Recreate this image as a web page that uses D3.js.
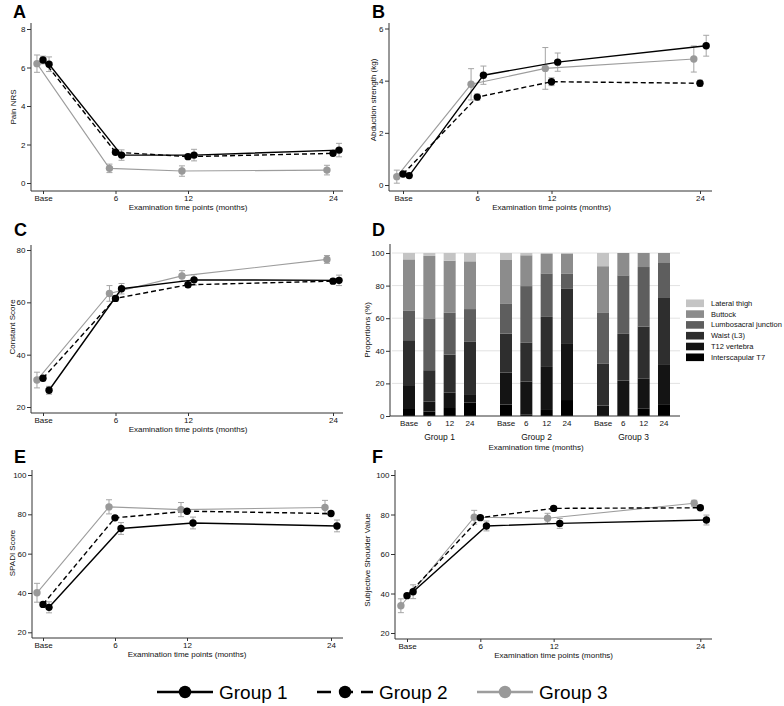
<!DOCTYPE html>
<html><head><meta charset="utf-8">
<script src="https://cdn.jsdelivr.net/npm/d3@7"></script>
<style>body{margin:0;background:#fff} text{font-family:"Liberation Sans",Arial,sans-serif;fill:#111}</style>
</head><body><svg id="c" width="784" height="706"></svg>
<script>
// ---------- data ----------
const months = [0, 6, 12, 24];
const timeLabels = ["Base", "6", "12", "24"];
const groupNames = ["Group 1", "Group 2", "Group 3"];
const dodgeMonths = [0.5, 0, -0.5];

// rows: Group 1, Group 2, Group 3 ; columns: Base, 6, 12, 24
const painMean = [[6.17, 1.45, 1.45, 1.71], [6.39, 1.60, 1.37, 1.54], [6.20, 0.76, 0.62, 0.67]];
const painErr  = [[0.38, 0.27, 0.30, 0.35], [0.20, 0.12, 0.12, 0.12], [0.45, 0.22, 0.27, 0.25]];
const abdMean  = [[0.36, 4.21, 4.71, 5.34], [0.42, 3.37, 3.96, 3.90], [0.32, 3.86, 4.47, 4.83]];
const abdErr   = [[0.08, 0.35, 0.35, 0.40], [0.06, 0.12, 0.15, 0.12], [0.25, 0.60, 0.80, 0.50]];
const constMean = [[26.4, 65.2, 68.6, 68.4], [31.0, 61.5, 66.7, 68.1], [30.3, 63.4, 70.1, 76.4]];
const constErr  = [[1.5, 2.0, 2.0, 2.0], [1.0, 1.0, 1.0, 1.0], [3.0, 3.0, 2.0, 1.5]];
const spadiMean = [[32.7, 72.8, 75.6, 74.1], [34.2, 78.2, 81.6, 80.4], [40.1, 83.8, 82.4, 83.5]];
const spadiErr  = [[2.8, 3.0, 3.0, 3.0], [1.0, 1.0, 1.0, 1.0], [4.8, 3.6, 3.6, 3.6]];
const ssvMean = [[40.9, 74.2, 75.5, 77.2], [38.9, 78.4, 83.1, 83.4], [33.8, 78.6, 78.1, 85.7]];
const ssvErr  = [[3.5, 2.5, 2.5, 2.5], [1.0, 1.0, 1.0, 1.0], [3.5, 3.5, 2.5, 1.5]];

// panel D: 12 bars (Group 1 Base..24, Group 2 Base..24, Group 3 Base..24), percent
const siteNames = ["Interscapular T7", "T12 vertebra", "Waist (L3)", "Lumbosacral junction", "Buttock", "Lateral thigh"];
const pctT7      = [4.3, 2.7, 4.9, 8.2,   7.0, 1.0, 3.7, 9.8,    0.0, 0.0, 4.7, 6.8];
const pctT12     = [14.1, 6.1, 9.4, 4.7,  19.7, 20.1, 26.4, 34.4, 6.4, 21.7, 18.4, 25.0];
const pctWaist   = [28.1, 19.3, 23.4, 32.6, 23.8, 23.8, 30.7, 33.8, 25.6, 28.7, 31.8, 40.6];
const pctLumbo   = [18.0, 31.8, 25.6, 20.1, 18.6, 34.8, 26.7, 9.2, 31.6, 35.9, 36.5, 21.9];
const pctButtock = [31.6, 38.3, 32.0, 29.3, 26.6, 18.9, 11.9, 12.2, 28.3, 13.7, 8.6, 5.7];
const pctThigh   = [3.9, 1.8, 4.7, 5.1,   4.3, 1.4, 0.6, 0.6,    8.1, 0.0, 0.0, 0.0];
const siteColors = ["#000000", "#141414", "#2e2e2e", "#5e5e5e", "#8c8c8c", "#c4c4c4"];

// ---------- drawing ----------
const svg = d3.select("#c");
const FONT = 8;

function letter(t, x, y) {
  svg.append("text").attr("x", x).attr("y", y).text(t)
    .style("font-size", "18px").style("font-weight", "bold").style("fill", "#000");
}

function styleAxis(sel) {
  sel.select(".domain").remove();
  sel.selectAll(".tick line").attr("stroke", "#333");
  sel.selectAll(".tick text").style("font-size", FONT + "px").style("fill", "#111")
    .style("font-family", '"Liberation Sans",Arial,sans-serif');
}

const seriesStyle = [
  {stroke: "#000", width: 1.4, dash: null, fill: "#000"},
  {stroke: "#000", width: 1.4, dash: "5,3", fill: "#000"},
  {stroke: "#9d9d9d", width: 1.1, dash: null, fill: "#999"}
];

function linePanel(o) {
  const g = svg.append("g");
  const x = d3.scaleLinear().domain([0, 24]).range(o.xr);
  const y = d3.scaleLinear().domain(o.yd).range(o.yr);
  g.append("line").attr("x1", o.ax).attr("x2", o.ax).attr("y1", o.top).attr("y2", o.base)
    .attr("stroke", "#333").attr("stroke-width", 1);
  g.append("line").attr("x1", o.ax).attr("x2", o.right).attr("y1", o.base).attr("y2", o.base)
    .attr("stroke", "#333").attr("stroke-width", 1);
  g.append("g").attr("transform", `translate(${o.ax},0)`)
    .call(d3.axisLeft(y).tickValues(o.ticks).tickFormat(d3.format("d")).tickSize(4).tickPadding(1.5))
    .call(styleAxis);
  g.append("g").attr("transform", `translate(0,${o.base})`)
    .call(d3.axisBottom(x).tickValues(months).tickFormat((d, i) => timeLabels[i]).tickSize(3).tickPadding(1))
    .call(styleAxis);
  g.append("text").attr("x", (o.xr[0] + o.xr[1]) / 2).attr("y", o.base + 19)
    .attr("text-anchor", "middle").style("font-size", FONT + "px").text("Examination time points (months)");
  g.append("text").attr("transform", `translate(${o.tx},${o.ty}) rotate(-90)`)
    .attr("text-anchor", "middle").attr("dominant-baseline", "central")
    .style("font-size", FONT + "px").text(o.title);

  const series = [0, 1, 2].map(gi => months.map((m, i) => ({
    x: x(m + dodgeMonths[gi]), y: y(o.mean[gi][i]),
    lo: y(o.mean[gi][i] - o.err[gi][i]), hi: y(o.mean[gi][i] + o.err[gi][i])
  })));
  const line = d3.line().x(d => d.x).y(d => d.y);
  [2, 1, 0].forEach(gi => {
    const eg = g.append("g").attr("stroke", "#a5a5a5").attr("stroke-width", 1);
    series[gi].forEach(d => {
      eg.append("line").attr("x1", d.x).attr("x2", d.x).attr("y1", d.lo).attr("y2", d.hi);
      eg.append("line").attr("x1", d.x - 3).attr("x2", d.x + 3).attr("y1", d.lo).attr("y2", d.lo);
      eg.append("line").attr("x1", d.x - 3).attr("x2", d.x + 3).attr("y1", d.hi).attr("y2", d.hi);
    });
  });
  [2, 1, 0].forEach(gi => {
    const s = seriesStyle[gi];
    g.append("path").datum(series[gi]).attr("d", line).attr("fill", "none")
      .attr("stroke", s.stroke).attr("stroke-width", s.width)
      .attr("stroke-dasharray", s.dash);
  });
  [2, 1, 0].forEach(gi => {
    g.selectAll(null).data(series[gi]).enter().append("circle")
      .attr("cx", d => d.x).attr("cy", d => d.y).attr("r", 3.7)
      .attr("fill", seriesStyle[gi].fill);
  });
}

letter("A", 13, 18);
linePanel({ax: 31, top: 23, base: 191, right: 343, xr: [43, 333], yd: [0, 8], yr: [183, 29],
  ticks: [0, 2, 4, 6, 8], title: "Pain NRS", tx: 13, ty: 107, mean: painMean, err: painErr});
letter("B", 372, 18);
linePanel({ax: 389, top: 23, base: 191, right: 712, xr: [403, 700], yd: [0, 6], yr: [185, 28.5],
  ticks: [0, 2, 4, 6], title: "Abduction strength (kg)", tx: 373, ty: 100, mean: abdMean, err: abdErr});
letter("C", 14, 236);
linePanel({ax: 31, top: 245, base: 413, right: 343, xr: [43, 333], yd: [20, 80], yr: [407, 250],
  ticks: [20, 40, 60, 80], title: "Constant Score", tx: 12.5, ty: 327, mean: constMean, err: constErr});
letter("E", 14, 463);
linePanel({ax: 32, top: 470, base: 638, right: 343, xr: [43, 331], yd: [20, 100], yr: [632.3, 475],
  ticks: [20, 40, 60, 80, 100], title: "SPADI Score", tx: 12.5, ty: 553, mean: spadiMean, err: spadiErr});
letter("F", 372, 463);
linePanel({ax: 395, top: 470, base: 639, right: 712, xr: [407, 700.3], yd: [20, 100], yr: [633, 475],
  ticks: [20, 40, 60, 80, 100], title: "Subjective Shoulder Value", tx: 367, ty: 560, mean: ssvMean, err: ssvErr});

// ---------- panel D ----------
letter("D", 372, 236);
(function () {
  const g = svg.append("g");
  const yD = d3.scaleLinear().domain([0, 100]).range([416, 253]);
  const outer = d3.scaleBand().domain(groupNames).range([391, 682]).padding(0);
  const inner = d3.scaleBand().domain(timeLabels).range([-36.5, 36.5]).paddingInner(0.41).paddingOuter(0);
  const pctArrays = [pctT7, pctT12, pctWaist, pctLumbo, pctButtock, pctThigh];
  const rows = [];
  groupNames.forEach((gn, gi) => timeLabels.forEach((tl, ti) => {
    const r = {group: gn, time: tl};
    siteNames.forEach((s, si) => r[s] = pctArrays[si][gi * 4 + ti]);
    rows.push(r);
  }));
  g.selectAll(null).data([20, 40, 60, 80, 100]).enter().append("line")
    .attr("x1", 392).attr("x2", 680).attr("y1", d => yD(d)).attr("y2", d => yD(d))
    .attr("stroke", "#e2e2e2").attr("stroke-width", 1);
  const stack = d3.stack().keys(siteNames)(rows);
  stack.forEach((layer, li) => {
    g.selectAll(null).data(layer).enter().append("rect")
      .attr("x", d => outer(d.data.group) + outer.bandwidth() / 2 + inner(d.data.time))
      .attr("width", inner.bandwidth())
      .attr("y", d => yD(d[1])).attr("height", d => Math.max(0, yD(d[0]) - yD(d[1])))
      .attr("fill", siteColors[li]);
  });
  g.append("line").attr("x1", 390).attr("x2", 390).attr("y1", 244).attr("y2", 416).attr("stroke", "#333");
  g.append("line").attr("x1", 390).attr("x2", 680).attr("y1", 416).attr("y2", 416).attr("stroke", "#333");
  g.append("g").attr("transform", "translate(390,0)")
    .call(d3.axisLeft(yD).tickValues([0, 20, 40, 60, 80, 100]).tickFormat(d3.format("d")).tickSize(4).tickPadding(1.5))
    .call(styleAxis);
  rows.forEach(r => {
    g.append("text").attr("x", outer(r.group) + outer.bandwidth() / 2 + inner(r.time) + inner.bandwidth() / 2)
      .attr("y", 426).attr("text-anchor", "middle").style("font-size", FONT + "px").text(r.time);
  });
  groupNames.forEach(gn => {
    g.append("text").attr("x", outer(gn) + outer.bandwidth() / 2).attr("y", 439.5)
      .attr("text-anchor", "middle").style("font-size", "8.5px").text(gn);
  });
  g.append("text").attr("x", 536).attr("y", 450).attr("text-anchor", "middle")
    .style("font-size", FONT + "px").text("Examination time (months)");
  g.append("text").attr("transform", "translate(367,330) rotate(-90)")
    .attr("text-anchor", "middle").attr("dominant-baseline", "central")
    .style("font-size", FONT + "px").text("Proportions (%)");
  const legendOrder = siteNames.map((s, i) => i).reverse();
  legendOrder.forEach((si, k) => {
    const yy = 303.3 + k * 10.8;
    g.append("rect").attr("x", 686).attr("y", yy - 3.8).attr("width", 18).attr("height", 7.6)
      .attr("fill", siteColors[si]);
    g.append("text").attr("x", 711).attr("y", yy).attr("dominant-baseline", "central")
      .style("font-size", "7.5px").text(siteNames[si]);
  });
})();

// ---------- bottom legend ----------
(function () {
  const g = svg.append("g");
  const ly = 692;
  groupNames.forEach((gn, gi) => {
    const x0 = 157 + gi * 160;
    const s = seriesStyle[gi];
    g.append("line").attr("x1", x0).attr("x2", x0 + 56).attr("y1", ly).attr("y2", ly)
      .attr("stroke", s.stroke).attr("stroke-width", 2.4)
      .attr("stroke-dasharray", gi === 1 ? "14,8" : null);
    g.append("circle").attr("cx", x0 + 28).attr("cy", ly).attr("r", 6.2).attr("fill", s.fill);
    g.append("text").attr("x", x0 + 62).attr("y", ly).attr("dominant-baseline", "central")
      .style("font-size", "19px").style("fill", "#000").text(gn);
  });
})();
</script></body></html>
